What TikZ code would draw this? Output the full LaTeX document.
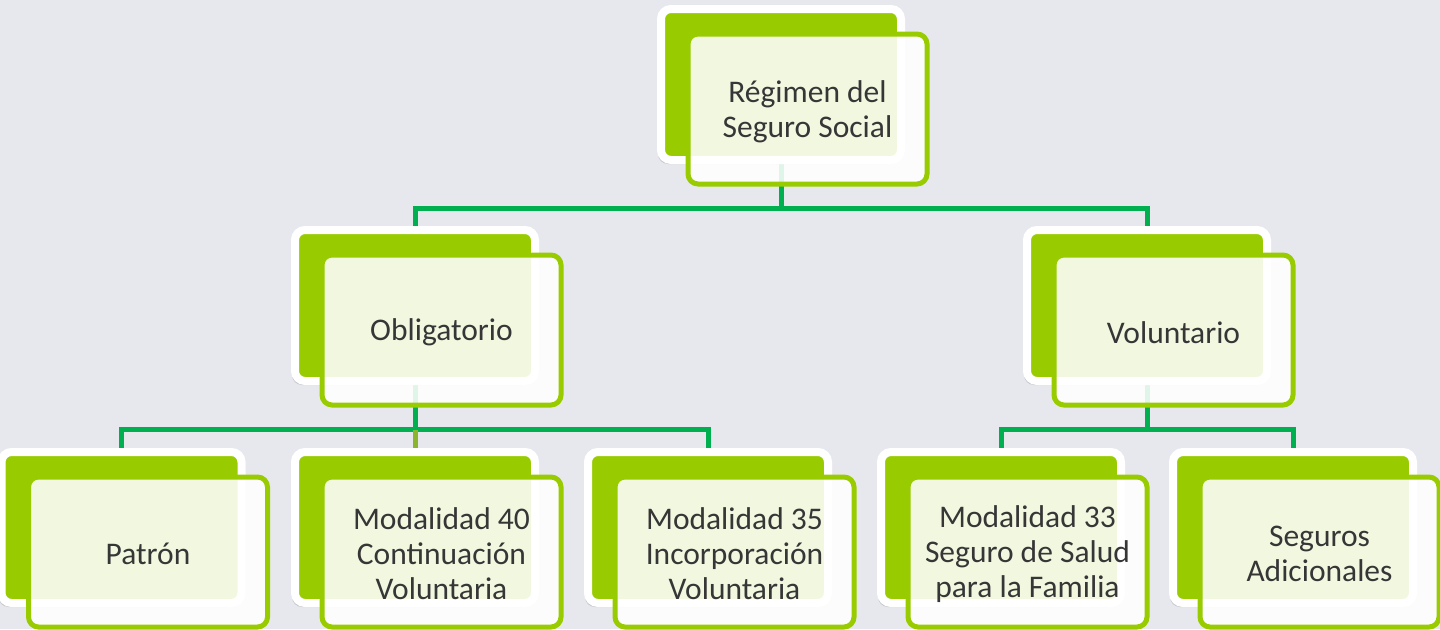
\documentclass[tikz,border=0pt]{standalone}
\usepackage{fontspec}
\setmainfont{Carlito}
\usetikzlibrary{shadows}
\definecolor{bgc}{HTML}{E7E8ED}
\definecolor{lime}{HTML}{99CC00}
\definecolor{conng}{HTML}{00B050}
\definecolor{olive}{HTML}{8BB52A}
\definecolor{txt}{HTML}{363636}
\tikzset{
  backbox/.style={draw=white, line width=8pt, fill=lime, rounded corners=10pt,
    minimum width=240pt, minimum height=151pt, inner sep=0pt,
    drop shadow={shadow xshift=-3pt, shadow yshift=-4pt, opacity=0.14, fill=black}},
  frontbox/.style={draw=lime, line width=5pt, fill=white, fill opacity=0.88,
    rounded corners=10pt, minimum width=239pt, minimum height=150pt, inner sep=0pt},
  boxtext/.style={align=center, text=txt, inner sep=0pt, font=\fontsize{31.5}{35}\selectfont},
  conn/.style={draw=conng, line width=5pt},
}
\begin{document}
\begin{tikzpicture}[x=1pt,y=-1pt]
\useasboundingbox (0,0) rectangle (1440,629);
\fill[bgc] (0,0) rectangle (1440,629);
\coordinate (h1) at (0,208);
\coordinate (h2) at (0,429.5);
\path (781,84.5) coordinate (ptop)
      (415,305.5) coordinate (pobl)
      (1147,305.5) coordinate (pvol)
      (121.5,527.5) coordinate (ppat)
      (415,527.5) coordinate (pm40)
      (708,527.5) coordinate (pm35)
      (1001,527.5) coordinate (pm33)
      (1293,527.5) coordinate (pseg);
% connectors (behind the boxes)
\draw[conn] (ptop) -- (ptop |- h1) -| (pobl);
\draw[conn] (ptop |- h1) -| (pvol);
\draw[conn] (pobl) -- (pobl |- h2) -| (ppat);
\draw[conn] (pobl |- h2) -| (pm35);
\draw[draw=olive, line width=5pt] (pobl |- h2) -- (pm40);
\draw[conn] (pvol) -- (pvol |- h2) -| (pm33);
\draw[conn] (pvol |- h2) -| (pseg);
% boxes
\node[backbox] (btop) at (ptop) {};
\node[frontbox] (ftop) at ([shift={(26.5,24.5)}]btop.center) {};
\node[boxtext] (ttop) at ([yshift=-2.5pt]ftop.center) {Régimen del\\Seguro Social};
\node[backbox] (bobl) at (pobl) {};
\node[frontbox] (fobl) at ([shift={(26.5,24.5)}]bobl.center) {};
\node[boxtext] (tobl) at ([yshift=-2.5pt]fobl.center) {Obligatorio};
\node[backbox] (bvol) at (pvol) {};
\node[frontbox] (fvol) at ([shift={(26.5,24.5)}]bvol.center) {};
\node[boxtext] (tvol) at ([yshift=-2.5pt]fvol.center) {Voluntario};
\node[backbox] (bpat) at (ppat) {};
\node[frontbox] (fpat) at ([shift={(26.5,24.5)}]bpat.center) {};
\node[boxtext] (tpat) at ([yshift=-1.5pt]fpat.center) {Patrón};
\node[backbox] (bm40) at (pm40) {};
\node[frontbox] (fm40) at ([shift={(26.5,24.5)}]bm40.center) {};
\node[boxtext] (tm40) at ([yshift=-2pt]fm40.center) {Modalidad 40\\Continuación\\Voluntaria};
\node[backbox] (bm35) at (pm35) {};
\node[frontbox] (fm35) at ([shift={(26.5,24.5)}]bm35.center) {};
\node[boxtext] (tm35) at ([yshift=-2pt]fm35.center) {Modalidad 35\\Incorporación\\Voluntaria};
\node[backbox] (bm33) at (pm33) {};
\node[frontbox] (fm33) at ([shift={(26.5,24.5)}]bm33.center) {};
\node[boxtext] (tm33) at ([yshift=-2pt]fm33.center) {Modalidad 33\\Seguro de Salud\\para la Familia};
\node[backbox] (bseg) at (pseg) {};
\node[frontbox] (fseg) at ([shift={(26.5,24.5)}]bseg.center) {};
\node[boxtext] (tseg) at ([yshift=-2pt]fseg.center) {Seguros\\Adicionales};
\end{tikzpicture}
\end{document}
